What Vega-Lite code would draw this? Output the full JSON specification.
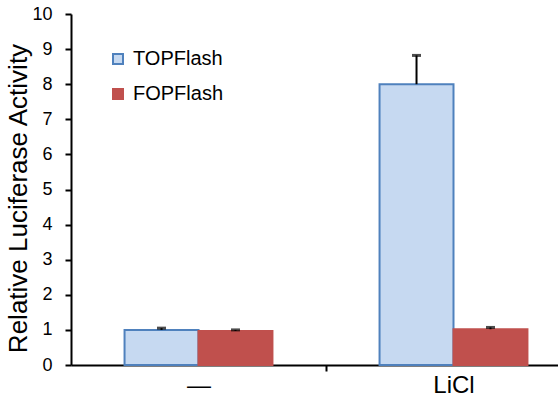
{
  "$schema": "https://vega.github.io/schema/vega-lite/v6.json",
  "width": 487,
  "height": 351,
  "autosize": {"type": "none"},
  "padding": {"left": 71, "top": 14, "right": 0, "bottom": 29},
  "background": "white",
  "config": {
    "view": {"stroke": null},
    "font": "Liberation Sans",
    "axis": {"labelFont": "Liberation Sans", "titleFont": "Liberation Sans", "labelColor": "black", "titleColor": "black", "domainColor": "black", "tickColor": "black", "domainWidth": 2, "tickWidth": 2, "grid": false},
    "axisY": {"titleFontSize": 26, "titleFontWeight": "normal", "titlePadding": 0, "titleY": 184, "labelFontSize": 18, "values": [0,1,2,3,4,5,6,7,8,9,10], "labelOverlap": false, "tickSize": 6, "labelPadding": 13}
  },
  "data": {
    "values": [
      {"group": "—", "series": "TOPFlash", "value": 1.0, "hi": 1.05},
      {"group": "—", "series": "FOPFlash", "value": 0.97, "hi": 1.0},
      {"group": "LiCl", "series": "TOPFlash", "value": 8.0, "hi": 8.82},
      {"group": "LiCl", "series": "FOPFlash", "value": 1.02, "hi": 1.07}
    ]
  },
  "encoding": {
    "x": {
      "field": "group", "type": "nominal", "sort": ["—", "LiCl"],
      "scale": {"range": [0, 510], "paddingInner": 0.42, "paddingOuter": 0.21},
      "axis": {"title": null, "labelAngle": 0, "labelFontSize": 24, "tickSize": 6, "tickOffset": 127.5, "labelOffset": -127.5, "labelPadding": 2}
    },
    "xOffset": {"field": "series", "type": "nominal", "scale": {"domain": ["TOPFlash", "FOPFlash"], "paddingInner": 0, "paddingOuter": 0}}
  },
  "layer": [
    {
      "mark": {"type": "bar", "strokeWidth": 2},
      "encoding": {
        "y": {
          "field": "value", "type": "quantitative",
          "scale": {"domain": [0, 10], "nice": false},
          "axis": {"title": "Relative Luciferase Activity", "values": [0,1,2,3,4,5,6,7,8,9,10]}
        },
        "fill": {
          "field": "series", "type": "nominal",
          "scale": {"domain": ["TOPFlash", "FOPFlash"], "range": ["#c6d9f1", "#c0504d"]},
          "legend": {"title": null, "orient": "none", "legendX": 37, "legendY": 35, "labelFontSize": 20, "labelFont": "Liberation Sans", "labelColor": "black", "symbolType": "square", "symbolSize": 100, "symbolStrokeWidth": 2, "rowPadding": 15, "labelOffset": 5, "symbolOpacity": 1}
        },
        "stroke": {
          "field": "series", "type": "nominal",
          "scale": {"domain": ["TOPFlash", "FOPFlash"], "range": ["#4f81bd", "#c0504d"]},
          "legend": {"title": null, "orient": "none", "legendX": 37, "legendY": 35, "labelFontSize": 20, "labelFont": "Liberation Sans", "labelColor": "black", "symbolType": "square", "symbolSize": 100, "symbolStrokeWidth": 2, "rowPadding": 15, "labelOffset": 5}
        }
      }
    },
    {
      "mark": {"type": "rule", "color": "black", "strokeWidth": 2},
      "encoding": {
        "y": {"field": "value", "type": "quantitative", "axis": {"title": "Relative Luciferase Activity", "values": [0,1,2,3,4,5,6,7,8,9,10]}},
        "y2": {"field": "hi"}
      }
    },
    {
      "mark": {"type": "tick", "color": "black", "thickness": 3, "size": 9, "orient": "horizontal"},
      "encoding": {
        "y": {"field": "hi", "type": "quantitative", "axis": {"title": "Relative Luciferase Activity", "values": [0,1,2,3,4,5,6,7,8,9,10]}}
      }
    }
  ]
}
